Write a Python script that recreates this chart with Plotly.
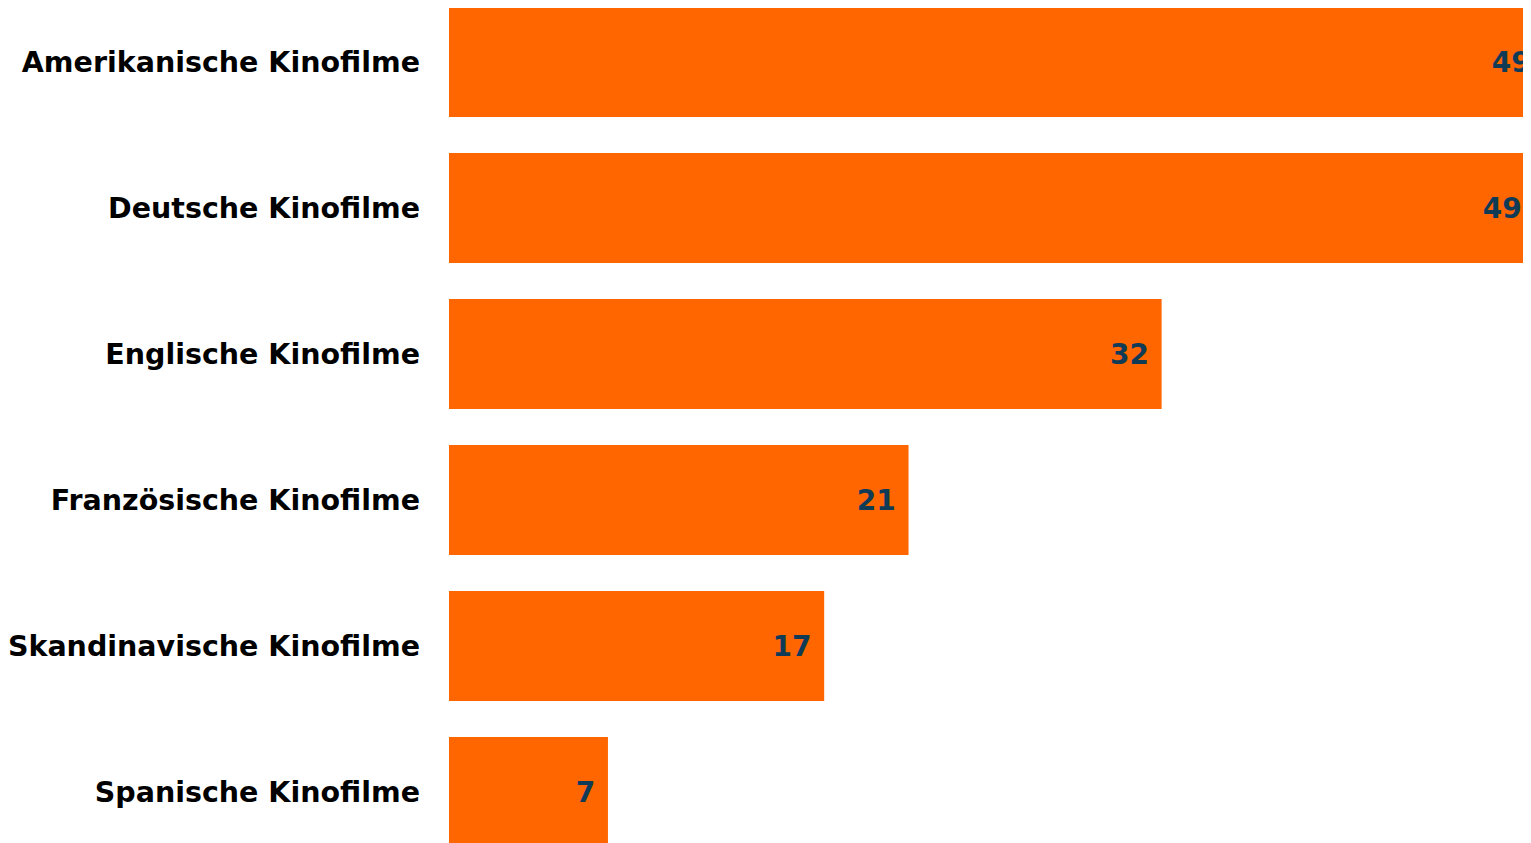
import plotly.graph_objects as go

categories = ["Amerikanische Kinofilme", "Deutsche Kinofilme", "Englische Kinofilme",
              "Französische Kinofilme", "Skandinavische Kinofilme", "Spanische Kinofilme"]
values = [49.3, 48.9, 32.1, 20.7, 16.9, 7.16]
labels = ["49", "49", "32", "21", "17", "7"]

fig = go.Figure(go.Bar(
    y=categories, x=values, orientation="h",
    text=[l + "\u00a0" for l in labels],
    textposition="inside", insidetextanchor="end",
    textfont=dict(family="DejaVu Sans", size=28, color="#0f3b57", weight="bold"),
    marker=dict(color="#ff6600", line=dict(width=0)),
    cliponaxis=True,
    hoverinfo="skip",
))

# page body has an 8px margin, so the figure is sized/placed to fill the visible window
fig.update_layout(
    width=1523, height=835,
    margin=dict(l=441, r=0, t=0, b=0),
    paper_bgcolor="white", plot_bgcolor="white",
    bargap=0.247,
    showlegend=False,
    xaxis=dict(range=[0, 1082 / 22.2], visible=False, showgrid=False, zeroline=False),
    yaxis=dict(range=[5.349, -0.370], autorange=False, showgrid=False, zeroline=False,
               showline=False, ticks="", ticklabelstandoff=28, automargin=False,
               tickfont=dict(family="DejaVu Sans", size=28.5, color="#000000", weight="bold")),
)

fig.write_html("out.html")
